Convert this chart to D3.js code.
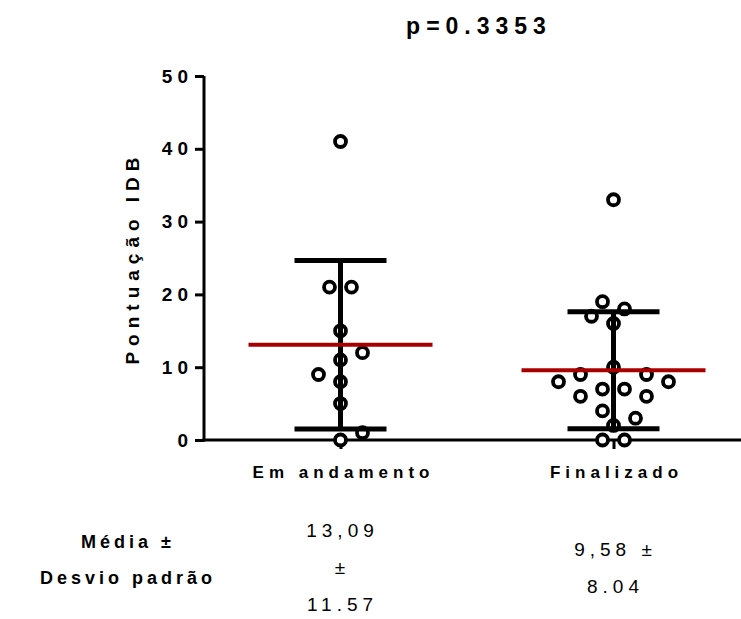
<!DOCTYPE html>
<html>
<head>
<meta charset="utf-8">
<script src="https://cdn.jsdelivr.net/npm/d3@7"></script>
<style>
  body { margin: 0; background: #fff; }
  text { font-family: "Liberation Sans", Arial, sans-serif; fill: #000; }
</style>
</head>
<body>
<div id="chart"></div>
<script>
// data
const groups = ["Em andamento", "Finalizado"];
const emAndamento = [41, 21, 21, 15, 12, 11, 9, 8, 5, 1, 0];
const finalizado = [33, 19, 18, 17, 16, 10, 9, 9, 8, 8, 7, 7, 6, 6, 4, 3, 2, 0, 0];
const means = [13.09, 9.58];
const sds = [11.57, 8.04];
const yTicks = [0, 10, 20, 30, 40, 50];
const pText = "p=0.3353";
const statLabel = ["Média ±", "Desvio padrão"];

const width = 741, height = 619;
const svg = d3.select("#chart").append("svg")
    .attr("width", width).attr("height", height);

const x = d3.scalePoint().domain(groups).range([204, 750]).padding(0.5);
const y = d3.scaleLinear().domain([0, 50]).range([440, 76]);

const dotR = 5.5, minDist = 15, slot = 11;

// simple beeswarm: equal values placed as symmetric pairs, others nudged sideways
function swarm(values) {
    const placed = [];
    const free = (off, v) => placed.every(p => {
        const dx = p.off - off, dy = y(p.v) - y(v);
        return Math.sqrt(dx * dx + dy * dy) >= minDist;
    });
    const byValue = d3.groups(values, d => d).sort((a, b) => a[0] - b[0]);
    byValue.forEach(([v, list]) => {
        const k = list.length;
        if (k === 1) {
            const bias = d3.sum(placed, p => p.off);
            for (let m = 0; m < 20; m++) {
                const sides = m === 0 ? [0] : (bias > 0 ? [-m * slot, m * slot] : [m * slot, -m * slot]);
                const hit = sides.find(o => free(o, v));
                if (hit !== undefined) { placed.push({v, off: hit}); break; }
            }
        } else {
            for (let m = 0; m < 20; m++) {
                const offs = d3.range(k).map(i => (i - (k - 1) / 2) * 2 * slot);
                const spread = offs.map(o => o === 0 ? 0 : Math.sign(o) * (Math.abs(o) + m * 2 * slot));
                if (spread.every(o => free(o, v))) {
                    spread.forEach(o => placed.push({v, off: o}));
                    break;
                }
            }
        }
    });
    return placed;
}

const series = [emAndamento, finalizado];

// title
svg.append("text").attr("x", 479).attr("y", 26)
    .attr("text-anchor", "middle").attr("dominant-baseline", "central")
    .attr("font-size", 23).attr("font-weight", "bold").attr("letter-spacing", 6)
    .text(pText);

// y axis
const yAxis = svg.append("g").attr("transform", "translate(204,0)")
    .call(d3.axisLeft(y).tickValues(yTicks).tickSize(9).tickSizeOuter(0).tickPadding(2));
yAxis.select(".domain").attr("stroke-width", 3).attr("d", "M0," + (y(0) + 1.5) + "V" + y(50));
yAxis.selectAll(".tick line").attr("stroke-width", 3);
yAxis.selectAll(".tick text")
    .attr("font-size", 19).attr("font-weight", "bold").attr("letter-spacing", 5)
    .attr("font-family", null);

svg.append("text")
    .attr("transform", "translate(132," + y(25) + ") rotate(-90)")
    .attr("text-anchor", "middle").attr("dominant-baseline", "central")
    .attr("font-size", 19).attr("font-weight", "bold").attr("letter-spacing", 6)
    .text("Pontuação IDB");

// x axis
svg.append("line").attr("x1", 202.5).attr("x2", 741).attr("y1", y(0)).attr("y2", y(0))
    .attr("stroke", "#000").attr("stroke-width", 3);
const xAxis = svg.append("g").attr("transform", "translate(0," + y(0) + ")")
    .call(d3.axisBottom(x).tickSize(9).tickSizeOuter(0).tickPadding(17));
xAxis.select(".domain").remove();
xAxis.selectAll(".tick line").attr("stroke-width", 3);
xAxis.selectAll(".tick text")
    .attr("font-size", 17).attr("font-weight", "bold").attr("letter-spacing", 5)
    .attr("dx", 2.5)
    .attr("font-family", null);

// points
series.forEach((vals, i) => {
    const cx = x(groups[i]);
    svg.append("g").selectAll("circle").data(swarm(vals)).join("circle")
        .attr("cx", d => cx + d.off)
        .attr("cy", d => y(d.v))
        .attr("r", dotR)
        .attr("fill", "#fff")
        .attr("stroke", "#000")
        .attr("stroke-width", 3.8);
});

// error bars (mean ± sd) and mean line
const bars = svg.append("g");
groups.forEach((g, i) => {
    const cx = x(g), lo = means[i] - sds[i], hi = means[i] + sds[i];
    bars.append("line").attr("x1", cx).attr("x2", cx).attr("y1", y(lo)).attr("y2", y(hi))
        .attr("stroke", "#000").attr("stroke-width", 5);
    [lo, hi].forEach(v => {
        bars.append("line").attr("x1", cx - 46).attr("x2", cx + 46).attr("y1", y(v)).attr("y2", y(v))
            .attr("stroke", "#000").attr("stroke-width", 5);
    });
    bars.append("line").attr("x1", cx - 92).attr("x2", cx + 92).attr("y1", y(means[i])).attr("y2", y(means[i]))
        .attr("stroke", "#a80000").attr("stroke-width", 4);
});

// stats table under the chart
const lineH = 37, blockMid = 567;
svg.append("g").selectAll("text").data(statLabel).join("text")
    .attr("x", 128).attr("y", (d, i) => 542 + i * 36)
    .attr("text-anchor", "middle").attr("dominant-baseline", "central")
    .attr("font-size", 18).attr("font-weight", "bold").attr("letter-spacing", 4)
    .text(d => d);

const fmt = d3.format(".2f");
function wrapWords(words, maxW, probe) {
    const lines = [];
    let cur = "";
    words.forEach(w => {
        const test = cur ? cur + " " + w : w;
        probe.text(test);
        if (cur && probe.node().getComputedTextLength() > maxW) { lines.push(cur); cur = w; }
        else cur = test;
    });
    lines.push(cur);
    return lines;
}
groups.forEach((g, i) => {
    const words = [fmt(means[i]).replace(".", ","), "±", fmt(sds[i])];
    const t = svg.append("text").attr("x", x(g) + 2)
        .attr("text-anchor", "middle").attr("dominant-baseline", "central")
        .attr("font-size", 19).attr("letter-spacing", 5);
    const lines = wrapWords(words, 90, t);
    t.text(null);
    const top = blockMid - (lines.length - 1) * lineH / 2;
    lines.forEach((l, j) => {
        t.append("tspan").attr("x", x(g) + 2).attr("y", top + j * lineH).text(l);
    });
});
</script>
</body>
</html>
